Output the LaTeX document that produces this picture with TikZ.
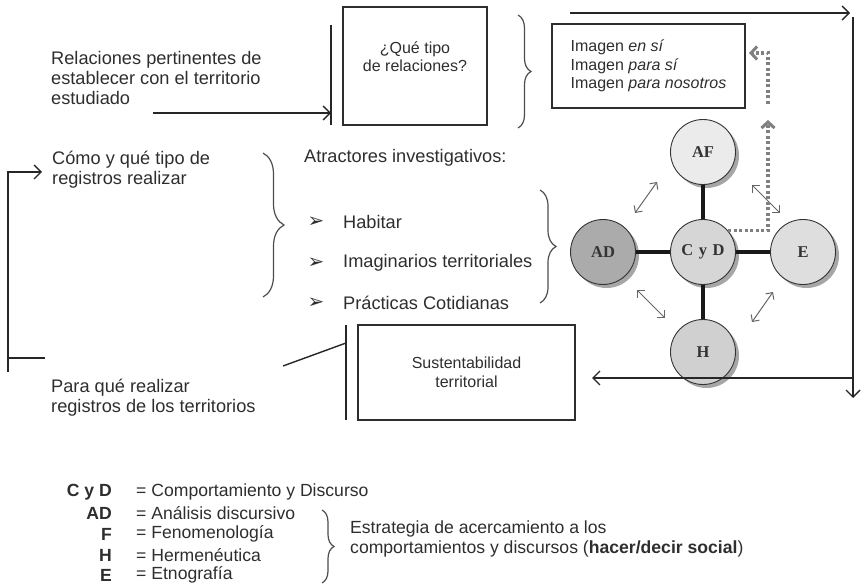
\documentclass[tikz,border=0pt]{standalone}
\usepackage{fontspec}
\setmainfont{Liberation Sans}
\newfontfamily\circfont{Liberation Serif}
\newfontfamily\symfont{DejaVu Sans}
\usetikzlibrary{arrows.meta,decorations.pathreplacing,shadows}

\definecolor{inkgray}{HTML}{2E2E2E}
\definecolor{fillAF}{HTML}{EBEBEB}
\definecolor{fillCD}{HTML}{D6D6D6}
\definecolor{fillAD}{HTML}{ABABAB}
\definecolor{fillE}{HTML}{DEDEDE}
\definecolor{fillH}{HTML}{D0D0D0}

\newcommand{\bodysize}{\fontsize{18.2}{20}\selectfont}
\newcommand{\legendsize}{\fontsize{17.6}{20}\selectfont}
\newcommand{\boxsize}{\fontsize{16}{18.5}\selectfont}
\newcommand{\pointer}{{\symfont\fontsize{20}{20}\selectfont ➢}}

\tikzset{
	txt/.style={inner sep=0pt, align=left, text=inkgray, font=\bodysize},
	lgtxt/.style={txt, font=\legendsize},
	lgkey/.style={txt, font=\legendsize\bfseries, anchor=east},
	boxtxt/.style={inner sep=0pt, align=center, text=inkgray, font=\boxsize},
	framebox/.style={draw=inkgray, line width=1.7pt, inner sep=0pt},
	lnk/.style={draw=black!85, line width=1.4pt},
	bigarrow/.style={lnk, -{Straight Barb[length=7pt,width=14pt,line width=1.4pt]}},
	curly/.style={draw=black!70, line width=1.2pt, decorate, decoration={brace, amplitude=#1}},
	bubble/.style={circle, draw=black!80, line width=0.9pt, minimum size=65pt, inner sep=0pt,
		font=\circfont\bfseries\fontsize{16.5}{18}\selectfont, text=black!80, fill=#1,
		drop shadow={shadow xshift=3.5pt, shadow yshift=-3.5pt, fill=black!35, opacity=1}},
	spoke/.style={draw=black!90, line width=3.5pt},
	twoway/.style={draw=black!60, line width=1pt,
		{Straight Barb[length=5pt,width=10pt]}-{Straight Barb[length=5pt,width=10pt]}},
	dotpath/.style={draw=black!50, line width=3.2pt, dash pattern=on 3pt off 2.5pt,
		-{Straight Barb[length=6pt,width=13pt,line width=3pt]}}
}

\begin{document}
\begin{tikzpicture}[x=1pt, y=-1pt]
	\useasboundingbox (0,0) rectangle (865,585);
	
	% top row
	\node[txt, anchor=west] (relTxt) at (51,78) {Relaciones pertinentes de\\establecer con el territorio\\estudiado};
	\coordinate (relStart) at (153,113);
	\coordinate (relEnd) at (331,113);
	\coordinate (qBarTop) at (331,25);
	\coordinate (qBarBot) at (331,125);
	\draw[lnk] (qBarTop) -- (qBarBot);
	\draw[bigarrow] (relStart) -- (relEnd);
	
	\node[framebox, minimum width=144pt, minimum height=118pt] (qBox) at (415,66) {};
	\node[boxtxt] (qTxt) at ([yshift=9.5pt]qBox.center) {¿Qué tipo\\de relaciones?};
	\coordinate (qBraceTop) at (518,15);
	\coordinate (qBraceBot) at (518,128);
	\draw[curly=13pt] (qBraceTop) -- (qBraceBot);
	
	\node[framebox, minimum width=193pt, minimum height=84pt, align=left, text=inkgray, font=\boxsize] (imgBox) at (648.5,66)
		{Imagen \textit{en sí}\\Imagen \textit{para sí}\\Imagen \textit{para nosotros}};
	
	% outer loop on the right
	\coordinate (loopA) at (570,13);
	\coordinate (loopB) at (850,13);
	\coordinate (loopC) at (853,17);
	\coordinate (loopD) at (853,398);
	\coordinate (loopE) at (853,378);
	\coordinate (loopF) at (592,378);
	\draw[bigarrow] (loopA) -- (loopB);
	\draw[bigarrow] (loopC) -- (loopD);
	
	% middle row
	\node[txt, anchor=west] (comoTxt) at (52,170) {Cómo y qué tipo de\\registros realizar};
	\coordinate (sideTop) at (8,172);
	\coordinate (sideBot) at (8,372);
	\coordinate (sideIn) at (42,172);
	\coordinate (sideFoot) at (8,358);
	\coordinate (sideOut) at (45,358);
	\draw[bigarrow] (sideBot) -- (sideTop) -- (sideIn);
	\draw[lnk] (sideFoot) -- (sideOut);
	
	\coordinate (comoBraceTop) at (263,153);
	\coordinate (comoBraceBot) at (263,297);
	\draw[curly=21pt] (comoBraceTop) -- (comoBraceBot);
	
	\node[txt, anchor=west] (atrTxt) at (304,158) {Atractores investigativos:};
	\node[inner sep=0pt, text=inkgray] (bul1) at (316,222) {\pointer};
	\node[txt, anchor=west] (habTxt) at (343,222) {Habitar};
	\node[inner sep=0pt, text=inkgray] (bul2) at (316,263) {\pointer};
	\node[txt, anchor=west] (imaTxt) at (343,263) {Imaginarios territoriales};
	\node[inner sep=0pt, text=inkgray] (bul3) at (316,303) {\pointer};
	\node[txt, anchor=west] (praTxt) at (343,303) {Prácticas Cotidianas};
	\coordinate (atrBraceTop) at (540,190);
	\coordinate (atrBraceBot) at (540,303);
	\draw[curly=16pt] (atrBraceTop) -- (atrBraceBot);
	
	% bottom row
	\node[txt, anchor=west] (paraTxt) at (51,398) {Para qué realizar\\registros de los territorios};
	\coordinate (slantA) at (283,366);
	\coordinate (slantB) at (346,343);
	\coordinate (sBarTop) at (346,325);
	\coordinate (sBarBot) at (346,420);
	\draw[lnk] (slantA) -- (slantB);
	\draw[lnk] (sBarTop) -- (sBarBot);
	\node[framebox, minimum width=217pt, minimum height=95pt, boxtxt] (susBox) at (466.5,372.5) {Sustentabilidad\\territorial};
	
	% circles
	\node[bubble=fillCD] (cyd) at (703,252) {C\,\,y\,\,D};
	\node[bubble=fillAF] (af) at (703,152) {AF};
	\node[bubble=fillH] (hh) at (703,352) {H};
	\node[bubble=fillAD] (ad) at (603,252) {AD};
	\node[bubble=fillE] (ee) at (803,252) {E};
	\draw[spoke] (cyd) -- (af);
	\draw[spoke] (cyd) -- (hh);
	\draw[spoke] (cyd) -- (ad);
	\draw[spoke] (cyd) -- (ee);
	
	\draw[bigarrow] (loopE) -- (loopF);
	
	\coordinate (tw1a) at (635,213);
	\coordinate (tw1b) at (657,182);
	\coordinate (tw2a) at (752,185);
	\coordinate (tw2b) at (780,213);
	\coordinate (tw3a) at (637,290);
	\coordinate (tw3b) at (665,318);
	\coordinate (tw4a) at (752,322);
	\coordinate (tw4b) at (773,292);
	\draw[twoway] (tw1a) -- (tw1b);
	\draw[twoway] (tw2a) -- (tw2b);
	\draw[twoway] (tw3a) -- (tw3b);
	\draw[twoway] (tw4a) -- (tw4b);
	
	\coordinate (dotUp) at (768,120);
	\coordinate (dotRise) at (768,104);
	\coordinate (dotEnd) at (749,53);
	\draw[dotpath] (cyd.40) -| (dotUp);
	\draw[dotpath] (dotRise) |- (dotEnd);
	
	% legend
	\node[lgkey] (lgCyD) at (112,492) {C y D};
	\node[lgtxt, anchor=west] (lgCyDtxt) at (136,492) {= Comportamiento y Discurso};
	\node[lgkey] (lgAD) at (112,513) {AD};
	\node[lgtxt, anchor=west] (lgADtxt) at (136,513) {= Análisis discursivo};
	\node[lgkey] (lgF) at (112,534) {F};
	\node[lgtxt, anchor=west] (lgFtxt) at (136,534) {= Fenomenología};
	\node[lgkey] (lgH) at (112,555) {H};
	\node[lgtxt, anchor=west] (lgHtxt) at (136,555) {= Hermenéutica};
	\node[lgkey] (lgE) at (112,575) {E};
	\node[lgtxt, anchor=west] (lgEtxt) at (136,575) {= Etnografía};
	\coordinate (lgBraceTop) at (322,510);
	\coordinate (lgBraceBot) at (322,583);
	\draw[curly=12pt] (lgBraceTop) -- (lgBraceBot);
	\node[lgtxt, anchor=west] (stratTxt) at (350,539) {Estrategia de acercamiento a los\\comportamientos y discursos (\textbf{hacer/decir social})};
\end{tikzpicture}
\end{document}
